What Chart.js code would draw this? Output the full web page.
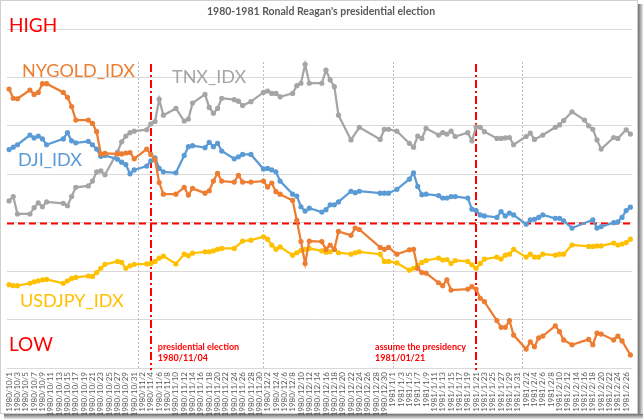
<!DOCTYPE html>
<html><head><meta charset="utf-8">
<script src="https://cdn.jsdelivr.net/npm/chart.js@4.4.0/dist/chart.umd.min.js"></script>
<style>html,body{margin:0;padding:0;background:#fff;}canvas{display:block;}</style>
</head><body>
<canvas id="c" width="644" height="420"></canvas>
<script>
const chartTitle = "1980-1981 Ronald Reagan's presidential election";
const firstDay = '1980/10/1';
const lastDay = '1981/2/27';
const tradingDays = [
'1980/10/1','1980/10/2','1980/10/3','1980/10/6','1980/10/7','1980/10/8','1980/10/9','1980/10/10','1980/10/13','1980/10/14','1980/10/15','1980/10/16','1980/10/17','1980/10/20','1980/10/21','1980/10/22','1980/10/23','1980/10/24','1980/10/27','1980/10/28','1980/10/29','1980/10/30','1980/10/31',
'1980/11/3','1980/11/4','1980/11/5','1980/11/6','1980/11/7','1980/11/10','1980/11/11','1980/11/12','1980/11/13','1980/11/14','1980/11/17','1980/11/18','1980/11/19','1980/11/20','1980/11/21','1980/11/24','1980/11/25','1980/11/26','1980/11/28',
'1980/12/1','1980/12/2','1980/12/3','1980/12/4','1980/12/5','1980/12/8','1980/12/9','1980/12/10','1980/12/11','1980/12/12','1980/12/15','1980/12/16','1980/12/17','1980/12/18','1980/12/19','1980/12/22','1980/12/23','1980/12/24','1980/12/26','1980/12/29','1980/12/30','1980/12/31',
'1981/1/2','1981/1/5','1981/1/6','1981/1/7','1981/1/8','1981/1/9','1981/1/12','1981/1/13','1981/1/14','1981/1/15','1981/1/16','1981/1/19','1981/1/20','1981/1/21','1981/1/22','1981/1/23','1981/1/26','1981/1/27','1981/1/28','1981/1/29','1981/1/30',
'1981/2/2','1981/2/3','1981/2/4','1981/2/5','1981/2/6','1981/2/9','1981/2/10','1981/2/11','1981/2/12','1981/2/13','1981/2/16','1981/2/17','1981/2/18','1981/2/19','1981/2/20','1981/2/23','1981/2/24','1981/2/25','1981/2/26','1981/2/27'
];
const NYGOLD_IDX = [
127.6,125.7,125.6,127.4,126.5,126.9,128.7,128.7,null,126.9,125.9,124.0,121.2,121.2,120.5,118.8,114.2,114.3,114.2,114.2,114.4,114.5,113.2,
115.2,114.1,113.0,108.3,105.9,105.9,null,107.3,105.7,107.1,106.1,106.6,108.6,110.2,108.6,108.4,109.8,108.4,108.4,
108.6,107.4,108.2,106.4,105.9,104.6,100.5,96.1,91.6,96.2,96.1,94.5,95.4,94.5,98.2,97.4,98.9,98.6,null,94.9,94.5,94.9,
93.5,94.4,94.5,90.6,89.7,89.6,87.6,87.0,88.2,86.1,null,86.3,86.8,86.3,84.4,83.7,79.8,78.4,78.4,79.8,76.8,
73.9,75.4,74.4,76.2,76.6,78.7,77.5,75.8,null,74.8,null,75.9,74.8,77.2,77.0,75.8,76.6,75.6,null,72.7
];
const TNX_IDX = [
104.5,105.4,101.8,101.8,103.1,104.1,103.3,104.3,null,104.0,103.5,105.4,107.3,107.6,108.6,110.5,110.7,109.9,114.6,116.7,117.9,118.6,118.9,
119.2,120.4,120.9,125.5,122.2,123.6,null,121.0,121.4,124.7,126.5,123.8,122.6,123.6,125.7,125.4,125.1,124.2,125.0,
126.9,127.2,126.7,126.7,126.0,126.7,128.3,128.8,132.7,128.8,128.8,131.5,129.5,128.1,122.2,117.1,null,119.7,null,117.2,119.3,119.3,
118.9,116.4,115.6,117.9,117.4,119.5,118.1,118.6,118.3,118.9,117.8,118.6,116.9,119.8,119.7,118.8,117.4,117.4,117.5,117.6,116.1,
117.8,118.5,117.2,null,118.1,119.7,120.2,121.1,null,122.9,121.2,120.0,119.3,117.1,115.2,117.6,117.4,null,119.2,118.3
];
const DJI_IDX = [
115.1,115.6,116.1,118.1,117.5,117.9,117.3,116.1,null,117.3,118.6,116.9,116.5,116.8,116.1,115.2,113.7,113.9,113.1,112.5,112.0,110.1,110.9,
111.7,112.8,113.4,111.2,110.5,110.3,null,113.9,115.7,115.9,115.5,116.6,115.7,116.4,114.8,113.2,113.6,114.1,114.1,
111.1,111.2,110.9,110.5,108.6,105.9,105.5,103.3,102.4,103.0,102.2,102.7,103.7,103.7,104.3,106.5,106.2,106.5,null,106.1,106.1,106.1,
106.9,109.0,110.3,107.5,105.8,105.9,105.6,105.1,105.1,105.4,105.4,105.1,102.8,102.5,101.6,101.4,101.1,102.3,101.4,102.0,101.6,
99.7,100.6,100.7,101.1,101.6,100.9,100.9,100.4,null,98.9,null,null,100.6,98.9,99.2,100.0,100.2,101.1,102.5,103.2
];
const USDJPY_IDX = [
87.2,87.0,87.0,87.5,87.8,88.0,88.2,88.3,null,87.5,88.0,88.5,88.7,89.0,88.9,89.7,90.6,91.4,92.0,91.8,90.6,91.1,91.4,
91.5,91.6,92.0,92.7,93.1,91.5,null,93.5,93.2,93.7,94.0,94.0,94.2,94.5,94.7,94.7,null,96.2,96.4,
97.1,96.6,95.4,94.5,95.0,93.3,93.8,94.3,94.5,94.7,94.2,93.9,94.0,94.5,93.8,93.5,93.8,94.0,null,93.5,92.0,92.0,
91.7,90.2,90.6,91.2,91.8,92.2,92.7,92.3,92.4,91.6,92.2,92.0,91.3,90.6,91.6,92.5,92.9,92.5,93.3,93.5,94.5,
92.9,93.5,92.9,92.9,93.5,93.3,93.5,93.5,null,95.4,null,95.1,95.1,95.2,95.2,95.8,95.4,95.6,95.9,96.6
];
const baseLevel = 100;
const yMin = 70, yMax = 140, yStep = 10;
const electionDay = '1980/11/4';
const inaugurationDay = '1981/1/21';

// every calendar day of the period is one category
function parseDay(s){ const p = s.split('/').map(Number); return new Date(p[0], p[1]-1, p[2]); }
const categories = [];
for (let d = parseDay(firstDay); d <= parseDay(lastDay); d.setDate(d.getDate()+1)) {
  categories.push(d.getFullYear() + '/' + (d.getMonth()+1) + '/' + d.getDate());
}
function toCategorySeries(values){
  const out = categories.map(() => null);
  tradingDays.forEach((day, i) => { const k = categories.indexOf(day); if (k >= 0) out[k] = values[i]; });
  return out;
}

const FONT = 'Lato, "Open Sans", "Liberation Sans", sans-serif';
const COLORS = {gold:'#ED7D31', tnx:'#A5A5A5', dji:'#5B9BD5', jpy:'#FFC000'};

function ds(label, values, color){
  return {label, data: toCategorySeries(values), borderColor: color, backgroundColor: color,
    borderWidth: 2.25, pointRadius: 2.6, pointHoverRadius: 2.6, pointBorderWidth: 0,
    spanGaps: true, tension: 0};
}

const overlay = {
  id: 'overlay',
  beforeDraw(chart){
    const ctx = chart.ctx;
    ctx.save();
    ctx.fillStyle = '#ffffff';
    ctx.fillRect(0, 0, chart.width, chart.height);
    let g = ctx.createLinearGradient(638, 0, 643, 0);
    g.addColorStop(0, '#6e6e6e'); g.addColorStop(1, '#e8e8e8');
    ctx.fillStyle = g; ctx.fillRect(638, 4, 5, 414);
    g = ctx.createLinearGradient(0, 414, 0, 419);
    g.addColorStop(0, '#6e6e6e'); g.addColorStop(1, '#e8e8e8');
    ctx.fillStyle = g; ctx.fillRect(4, 414, 639, 5);
    ctx.strokeStyle = '#d0d0d0'; ctx.lineWidth = 1;
    ctx.strokeRect(0.5, 0.5, 637, 413);
    ctx.restore();
  },
  beforeDatasetsDraw(chart){
    const {ctx, chartArea: a, scales: {x, y}} = chart;
    ctx.save();
    // month separators (dotted)
    ctx.strokeStyle = '#bdbdbd'; ctx.lineWidth = 1; ctx.setLineDash([2, 2]);
    categories.forEach((lab, i) => {
      if (i > 0 && /\/\d+\/1$/.test(lab)) {
        const xp = Math.round(x.getPixelForValue(i)) + 0.5;
        ctx.beginPath(); ctx.moveTo(xp, 62); ctx.lineTo(xp, a.bottom); ctx.stroke();
      }
    });
    ctx.strokeStyle = '#ff0000';
    ctx.lineWidth = 2;
    const yb = Math.round(y.getPixelForValue(baseLevel)) + 0.5;
    ctx.setLineDash([7, 4]);
    ctx.beginPath(); ctx.moveTo(a.left, yb); ctx.lineTo(a.right, yb); ctx.stroke();
    ctx.setLineDash([8, 3, 2, 3]);
    [electionDay, inaugurationDay].forEach(day => {
      const xp = Math.round(x.getPixelForValue(categories.indexOf(day)));
      ctx.beginPath(); ctx.moveTo(xp, 64); ctx.lineTo(xp, a.bottom + 2); ctx.stroke();
    });
    ctx.restore();
  },
  afterDraw(chart){
    const {ctx, scales: {x}} = chart;
    ctx.save();
    ctx.textBaseline = 'alphabetic';
    ctx.textAlign = 'center';
    ctx.fillStyle = '#595959';
    ctx.font = 'bold 10.5px ' + FONT;
    ctx.fillText(chartTitle, 321, 15);
    ctx.textAlign = 'left';
    ctx.font = '19px ' + FONT;
    ctx.fillStyle = '#ff0000';
    ctx.fillText('HIGH', 9, 32);
    ctx.fillText('LOW', 9, 351);
    ctx.font = '18px ' + FONT;
    ctx.fillStyle = COLORS.gold; ctx.fillText('NYGOLD_IDX', 22, 77);
    ctx.fillStyle = COLORS.tnx; ctx.fillText('TNX_IDX', 172, 83);
    ctx.fillStyle = COLORS.dji; ctx.fillText('DJI_IDX', 18, 166);
    ctx.fillStyle = COLORS.jpy; ctx.fillText('USDJPY_IDX', 20, 307);
    ctx.fillStyle = '#ff0000';
    ctx.font = 'bold 9px ' + FONT;
    const xe = x.getPixelForValue(categories.indexOf(electionDay));
    const xi = x.getPixelForValue(categories.indexOf(inaugurationDay));
    ctx.fillText('presidential election', xe + 7, 350);
    ctx.fillText('1980/11/04', xe + 7, 361);
    ctx.fillText('assume the presidency', xi - 101, 350);
    ctx.fillText('1981/01/21', xi - 101, 361);
    ctx.restore();
  }
};

new Chart(document.getElementById('c'), {
  type: 'line',
  data: {
    labels: categories,
    datasets: [
      ds('NYGOLD_IDX', NYGOLD_IDX, COLORS.gold),
      ds('DJI_IDX', DJI_IDX, COLORS.dji),
      ds('USDJPY_IDX', USDJPY_IDX, COLORS.jpy),
      ds('TNX_IDX', TNX_IDX, COLORS.tnx)
    ]
  },
  options: {
    responsive: false, animation: false, devicePixelRatio: 1,
    layout: {padding: {left: 7, right: 11, top: 29, bottom: 0}},
    plugins: {legend: {display: false}, title: {display: false}, tooltip: {enabled: false}},
    events: [],
    scales: {
      x: {
        type: 'category',
        offset: true,
        grid: {display: false, drawTicks: false},
        border: {display: false},
        ticks: {
          autoSkip: false, maxRotation: 90, minRotation: 90, padding: 4,
          color: '#595959', font: {family: FONT, size: 8},
          callback: (v, i) => (i % 2 === 0 ? categories[i] : '')
        },
        afterFit: s => { s.height = 52; }
      },
      y: {
        min: yMin, max: yMax,
        ticks: {display: false, stepSize: yStep},
        grid: {color: '#d9d9d9', lineWidth: 1, drawTicks: false},
        border: {display: false},
        afterFit: s => { s.width = 0; }
      }
    }
  },
  plugins: [overlay]
});
</script>
</body></html>
